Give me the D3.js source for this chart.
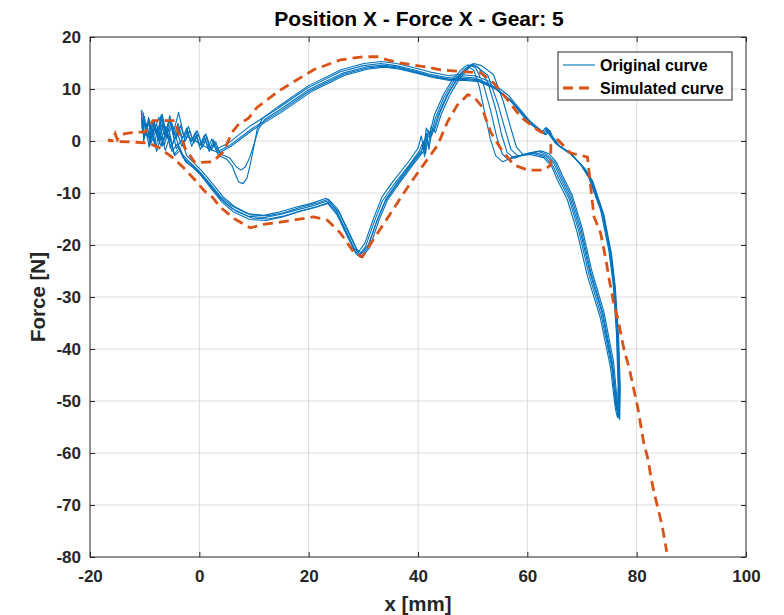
<!DOCTYPE html>
<html>
<head>
<meta charset="utf-8">
<script src="https://cdn.jsdelivr.net/npm/d3@7"></script>
<style>
  body { margin: 0; background: #fff; }
  svg text { font-family: "Liberation Sans", Arial, Helvetica, sans-serif; font-weight: bold; }
</style>
</head>
<body>
<div id="vis"></div>
<script>
// chart data
const xTicks = [-20, 0, 20, 40, 60, 80, 100]
const yTicks = [20, 10, 0, -10, -20, -30, -40, -50, -60, -70, -80]
const legendLabels = ["Original curve", "Simulated curve"]

// measured cycles (x [mm], force [N])
const cycle1 = [[-10.5,6.0],[-10.4,1.5],[-10.0,4.0],[-9.5,0.5],[-9.0,3.0],[-8.2,-0.5],[-7.6,2.5],[-6.8,-1.0],[-6.0,1.8],[-5.0,-2.0],[-4.0,-0.5],[-3.0,-3.2],[-1.5,-4.4],[0.0,-6.0],[2.0,-8.6],[4.0,-11.2],[6.0,-13.0],[9.0,-14.5],[12.0,-14.7],[15.0,-14.1],[18.0,-13.2],[21.0,-12.4],[23.3,-11.6],[25.0,-13.6],[27.0,-18.0],[28.4,-21.0],[29.2,-22.0],[30.4,-20.3],[32.0,-15.5],[33.5,-11.5],[35.5,-8.5],[38.5,-4.5],[40.2,-2.0],[40.8,-0.5],[41.2,-3.0],[41.6,1.5],[42.2,0.5],[43.2,4.5],[44.8,8.5],[46.5,11.5],[48.2,13.5],[49.2,14.3],[50.2,13.6],[51.2,10.5],[52.2,5.5],[53.2,0.5],[54.2,-2.8],[55.5,-4.0],[57.5,-3.0],[60.5,-2.6],[63.0,-3.2],[64.5,-5.0],[65.5,-7.5],[67.3,-11.2],[69.1,-17.5],[71.0,-26.0],[73.3,-33.8],[75.2,-43.5],[76.1,-51.5],[76.5,-53.2],[76.6,-47.0],[76.3,-37.0],[75.7,-27.5],[74.9,-21.0],[73.4,-13.3],[71.2,-7.0],[69.8,-4.6],[67.5,-2.0],[65.2,-0.5],[63.8,1.5],[63.3,2.5],[62.6,1.6],[60.2,3.6],[56.5,8.2],[53.4,10.8],[50.5,12.1],[47.5,12.4],[45.3,12.2],[42.0,12.9],[39.2,13.7],[36.0,14.5],[33.2,14.9],[30.0,14.5],[25.8,13.3],[19.8,10.2],[14.3,6.2],[9.3,2.9],[5.2,-0.5],[3.0,-1.6],[2.3,0.4],[1.6,-1.3],[0.9,1.1],[0.1,-0.9],[-0.7,1.7],[-1.5,-0.2],[-2.3,2.5],[-3.1,0.5],[-3.9,3.4],[-4.6,1.1],[-5.4,4.9],[-6.1,1.7],[-6.9,4.4],[-7.7,1.4],[-8.5,3.7],[-9.3,0.7]]

const cycle2 = [[-10.2,5.5],[-10.1,0.5],[-9.6,3.5],[-9.1,-0.2],[-8.6,2.2],[-7.9,-1.2],[-7.2,3.0],[-6.4,-0.8],[-5.6,2.4],[-4.6,-2.6],[-3.6,-1.2],[-2.6,-3.8],[-1.2,-5.0],[0.3,-6.6],[2.2,-9.2],[4.2,-11.8],[6.2,-13.6],[9.2,-15.1],[12.2,-15.3],[15.2,-14.6],[18.2,-13.6],[21.2,-12.8],[23.5,-12.0],[25.2,-14.2],[27.2,-18.6],[28.6,-21.6],[29.5,-22.4],[30.8,-20.5],[32.4,-15.6],[34.0,-11.6],[36.0,-8.6],[38.8,-4.6],[40.6,-2.2],[41.0,0.0],[41.4,-2.4],[41.9,2.0],[42.5,1.0],[43.6,4.8],[45.2,8.6],[46.9,11.6],[48.6,13.7],[49.6,14.6],[50.6,14.0],[52.0,10.8],[53.3,5.8],[54.4,0.8],[55.4,-2.5],[56.6,-3.6],[58.5,-2.8],[61.0,-2.4],[63.2,-3.0],[64.7,-4.8],[65.8,-7.3],[67.6,-11.0],[69.4,-17.3],[71.3,-25.8],[73.5,-33.5],[75.4,-43.2],[76.2,-51.0],[76.6,-52.8],[76.7,-46.8],[76.4,-37.2],[75.8,-27.6],[75.1,-21.2],[73.6,-13.6],[71.4,-7.2],[70.0,-4.8],[67.7,-2.2],[65.4,-0.6],[64.0,1.4],[63.5,2.6],[62.8,1.8],[60.4,3.9],[56.7,8.6],[53.6,11.2],[50.6,12.5],[47.6,12.8],[45.4,12.6],[42.1,13.3],[39.3,14.1],[36.1,14.9],[33.3,15.3],[30.1,14.9],[25.9,13.7],[19.9,10.6],[14.4,6.6],[11.6,4.4],[10.6,2.4],[10.0,-1.0],[9.3,-4.6],[8.7,-7.2],[8.0,-8.2],[7.2,-7.9],[6.6,-6.4],[6.0,-4.8],[5.0,-3.5],[3.5,-2.8],[2.6,-0.6],[1.8,-2.0],[1.0,0.4],[0.2,-1.6],[-0.6,1.0],[-1.4,-1.0],[-2.2,1.8],[-3.0,-0.4],[-3.8,2.6],[-4.6,0.2],[-5.4,4.0],[-6.2,0.8],[-7.0,5.0],[-7.6,1.6],[-8.4,3.6],[-9.2,0.2]]

const cycle3 = [[-10.0,4.8],[-9.8,1.0],[-9.3,4.5],[-8.8,0.8],[-8.2,3.6],[-7.4,0.2],[-6.8,5.2],[-6.0,1.2],[-5.2,3.5],[-4.2,-1.5],[-3.3,0.2],[-2.3,-2.8],[-1.0,-4.2],[0.5,-5.8],[2.4,-8.2],[4.4,-10.8],[6.4,-12.6],[9.4,-14.2],[12.4,-14.4],[15.4,-13.8],[18.4,-12.8],[21.4,-12.0],[23.6,-11.2],[25.4,-13.2],[27.4,-17.6],[28.8,-20.8],[29.7,-21.6],[31.0,-19.8],[32.6,-15.0],[34.2,-11.0],[36.2,-8.0],[39.0,-4.0],[40.8,-1.6],[41.5,1.5],[41.9,-1.0],[42.4,2.8],[43.0,2.0],[44.0,5.4],[45.5,9.0],[47.2,11.9],[48.9,13.9],[49.9,14.8],[51.0,14.2],[52.8,11.2],[54.2,6.2],[55.3,1.2],[56.3,-2.2],[57.6,-3.3],[59.5,-2.6],[61.6,-2.3],[63.4,-2.8],[64.9,-4.4],[66.0,-7.0],[67.8,-10.8],[69.6,-17.0],[71.5,-25.5],[73.7,-33.2],[75.5,-43.0],[76.3,-51.2],[76.7,-53.0],[76.8,-47.2],[76.5,-37.4],[75.9,-27.8],[75.2,-21.4],[73.8,-13.8],[71.6,-7.4],[70.2,-5.0],[67.9,-2.4],[65.6,-0.8],[64.2,1.2],[63.7,2.4],[63.0,1.5],[60.6,3.4],[56.9,7.9],[53.8,10.5],[50.8,11.8],[47.8,12.1],[45.6,11.9],[42.3,12.6],[39.5,13.4],[36.3,14.2],[33.5,14.6],[30.3,14.2],[26.1,13.0],[20.1,9.9],[14.6,5.9],[12.0,4.2],[10.8,2.2],[10.0,-0.6],[9.2,-3.2],[8.4,-5.0],[7.6,-5.6],[6.8,-5.0],[5.5,-3.2],[3.8,-2.5],[3.0,-0.2],[2.2,-1.8],[1.4,0.8],[0.6,-1.2],[-0.2,1.4],[-1.0,-0.4],[-1.8,2.0],[-2.6,0.0],[-3.4,3.0],[-4.2,0.6],[-5.0,3.2],[-5.8,0.5],[-6.6,3.4],[-7.4,0.0],[-8.2,2.4],[-9.2,-0.5]]

const cycle4 = [[-10.6,5.8],[-10.5,2.5],[-10.2,4.8],[-9.7,1.2],[-9.2,4.2],[-8.5,1.8],[-7.8,3.2],[-7.0,0.2],[-6.2,2.8],[-5.3,-1.4],[-4.3,0.8],[-3.3,-2.4],[-1.8,-4.0],[-0.2,-5.6],[1.8,-8.0],[3.8,-10.6],[5.8,-12.4],[8.8,-14.0],[11.8,-14.3],[14.8,-13.6],[17.8,-12.7],[20.8,-11.9],[23.2,-11.0],[24.9,-13.0],[26.9,-17.4],[28.3,-20.6],[29.1,-21.4],[30.3,-19.6],[31.9,-14.8],[33.4,-10.8],[35.4,-7.8],[38.4,-3.8],[40.0,-1.4],[40.6,1.0],[41.1,-2.0],[41.5,2.5],[42.1,1.2],[43.0,5.0],[44.6,8.8],[46.3,11.8],[48.0,13.8],[49.0,14.6],[50.6,14.4],[52.8,12.6],[54.6,7.2],[56.0,2.0],[57.0,-1.6],[58.3,-2.9],[60.0,-2.4],[62.0,-2.0],[63.6,-2.6],[65.1,-4.2],[66.2,-6.8],[68.0,-10.6],[69.8,-16.8],[71.6,-25.2],[73.8,-33.0],[75.6,-42.8],[76.4,-51.0],[76.8,-53.4],[76.9,-47.0],[76.6,-37.6],[76.0,-28.0],[75.3,-21.6],[73.9,-14.0],[71.8,-7.6],[70.4,-5.2],[68.1,-2.6],[65.8,-1.0],[64.4,1.0],[63.9,2.2],[63.2,1.3],[60.8,3.2],[57.1,7.6],[54.0,10.3],[51.0,11.6],[48.0,11.9],[45.8,11.8],[42.5,12.4],[39.7,13.2],[36.5,14.0],[33.7,14.4],[30.5,14.0],[26.3,12.8],[20.3,9.7],[14.8,5.7],[9.8,2.5],[5.6,-0.8],[3.4,-2.0],[2.6,0.2],[1.9,-1.6],[1.2,1.4],[0.4,-0.6],[-0.4,2.0],[-1.2,0.2],[-2.0,2.8],[-2.8,0.8],[-3.8,5.5],[-4.6,2.2],[-5.4,4.2],[-6.4,1.2],[-7.4,4.6],[-8.4,1.5],[-9.4,3.4]]

const cycle5 = [[-10.3,4.2],[-10.2,0.0],[-9.7,2.2],[-9.2,-1.2],[-8.6,1.2],[-7.8,-2.0],[-7.0,1.0],[-6.2,-1.8],[-5.4,1.0],[-4.5,-2.8],[-3.5,-1.8],[-2.5,-4.0],[-1.0,-5.2],[0.6,-6.8],[2.6,-9.4],[4.6,-11.8],[6.6,-13.4],[9.6,-14.8],[12.6,-15.0],[15.6,-14.4],[18.6,-13.4],[21.6,-12.6],[23.8,-11.8],[25.6,-13.8],[27.6,-18.3],[29.0,-21.4],[29.9,-22.2],[31.2,-20.4],[32.8,-15.4],[34.4,-11.4],[36.4,-8.4],[39.2,-4.4],[41.0,-2.0],[41.6,0.8],[42.0,-1.6],[42.6,2.2],[43.2,1.6],[44.2,5.0],[45.8,8.8],[47.5,11.8],[49.2,13.9],[50.2,14.9],[51.6,14.5],[53.8,12.8],[55.6,7.6],[57.0,2.4],[58.0,-1.2],[59.2,-2.6],[60.8,-2.2],[62.5,-1.9],[63.9,-2.4],[65.3,-4.0],[66.4,-6.6],[68.2,-10.4],[70.0,-16.6],[71.8,-25.0],[74.0,-32.8],[75.8,-42.6],[76.5,-50.8],[76.9,-53.6],[77.0,-47.6],[76.7,-37.8],[76.1,-28.2],[75.4,-21.8],[74.0,-14.2],[72.0,-7.8],[70.6,-5.4],[68.3,-2.8],[66.0,-1.1],[64.6,0.9],[64.1,2.0],[63.4,1.2],[61.0,3.0],[57.3,7.4],[54.2,10.0],[51.2,11.4],[48.2,11.7],[46.0,11.6],[42.7,12.2],[39.9,13.0],[36.7,13.8],[33.9,14.2],[30.7,13.8],[26.5,12.6],[20.5,9.5],[15.0,5.5],[10.0,2.3],[5.8,-1.0],[3.6,-2.3],[1.6,-1.4],[-0.4,-0.2],[-2.2,0.8],[-3.2,-1.0],[-4.0,1.5],[-5.0,-0.8],[-6.0,2.2],[-7.0,-1.0],[-8.0,1.8],[-9.0,-0.8]]

const originalCycles = [cycle1, cycle2, cycle3, cycle4, cycle5]

const simulated = [[63.0,1.5],[61.9,2.1],[58.8,4.6],[56.4,7.9],[53.8,11.2],[51.5,13.1],[47.5,13.4],[44.1,13.7],[41.7,14.2],[36.8,15.0],[34.4,15.6],[32.6,16.2],[30.0,16.2],[25.8,15.6],[20.9,13.7],[14.8,9.8],[10.6,6.5],[9.0,4.4],[7.1,3.1],[6.0,1.7],[4.4,-2.1],[2.4,-4.0],[-0.8,-4.2],[-2.6,-1.4],[-3.2,0.6],[-3.9,1.7],[-4.4,3.9],[-6.3,3.9],[-8.5,3.9],[-9.9,1.7],[-11.2,1.7],[-13.0,1.5],[-14.5,1.2],[-15.0,0.3],[-15.4,1.4],[-15.8,0.2],[-16.3,0.0],[-16.7,0.2],[-15.0,-0.1],[-12.3,-0.2],[-9.4,-0.4],[-7.5,-1.2],[-5.0,-3.1],[-3.0,-5.0],[-0.8,-7.5],[1.1,-9.8],[2.4,-10.8],[3.8,-12.7],[6.5,-15.0],[9.3,-16.7],[12.0,-16.0],[14.8,-15.6],[20.9,-14.6],[23.4,-15.2],[25.8,-17.7],[28.2,-21.3],[29.8,-22.3],[31.8,-19.0],[35.0,-13.9],[38.6,-8.1],[41.0,-4.6],[43.6,-0.8],[45.4,3.7],[47.2,6.9],[49.1,8.9],[50.2,8.5],[51.5,6.9],[53.3,1.7],[55.1,-1.4],[57.5,-4.6],[60.1,-5.6],[63.0,-5.6],[64.3,-4.6],[64.3,-0.8],[65.6,0.2],[67.9,-2.3],[71.0,-3.1],[71.2,-5.0],[71.6,-8.9],[72.2,-14.6],[73.4,-17.7],[74.4,-22.9],[74.9,-26.2],[75.8,-31.2],[76.6,-34.4],[77.7,-40.2],[78.6,-43.5],[79.5,-47.9],[80.2,-51.2],[80.8,-55.0],[81.3,-58.1],[82.1,-61.3],[82.6,-64.6],[83.2,-67.7],[84.1,-71.5],[84.8,-74.8],[85.5,-79.0]]

const blue = "#0072BD"
const orange = "#D95319"
const axisColor = "#262626"

const W = 784, H = 615
const margin = { left: 90, top: 37, right: 38, bottom: 58 }
const width = W - margin.left - margin.right
const height = H - margin.top - margin.bottom

let svg = d3.select("#vis").append("svg")
  .attr("width", W)
  .attr("height", H)

let x = d3.scaleLinear().domain([-20, 100]).range([0, width])
let y = d3.scaleLinear().domain([-80, 20]).range([height, 0])

let g = svg.append("g").attr("transform", `translate(${margin.left},${margin.top})`)

svg.append("defs").append("clipPath").attr("id", "plotclip")
  .append("rect").attr("width", width).attr("height", height)

// grid
g.append("g").selectAll("line").data(xTicks.slice(1, -1)).enter().append("line")
  .attr("x1", d => x(d)).attr("x2", d => x(d))
  .attr("y1", 0).attr("y2", height)
  .attr("stroke", "#dcdcdc").attr("stroke-width", 1)
g.append("g").selectAll("line").data(yTicks.slice(1, -1)).enter().append("line")
  .attr("y1", d => y(d)).attr("y2", d => y(d))
  .attr("x1", 0).attr("x2", width)
  .attr("stroke", "#dcdcdc").attr("stroke-width", 1)

// curves
let line = d3.line().x(d => x(d[0])).y(d => y(d[1]))
let plot = g.append("g").attr("clip-path", "url(#plotclip)")

plot.selectAll(".orig").data(originalCycles).enter().append("path")
  .attr("class", "orig")
  .attr("d", line)
  .attr("fill", "none")
  .attr("stroke", blue)
  .attr("stroke-width", 1.1)
  .attr("stroke-linejoin", "round")

plot.append("path")
  .datum(simulated)
  .attr("d", line)
  .attr("fill", "none")
  .attr("stroke", orange)
  .attr("stroke-width", 2.8)
  .attr("stroke-dasharray", "10,6")

// axes, MATLAB style box with inward ticks, plain hyphen minus
let fmt = d => String(d)
let xAxis = d3.axisBottom(x).tickValues(xTicks).tickSize(-5).tickPadding(13).tickFormat(fmt)
let yAxis = d3.axisLeft(y).tickValues(yTicks).tickSize(-5).tickPadding(9).tickFormat(fmt)

g.append("g").attr("transform", `translate(0,${height})`).call(xAxis)
g.append("g").call(yAxis)
g.append("g").call(d3.axisTop(x).tickValues(xTicks).tickSize(-5).tickFormat(""))
g.append("g").attr("transform", `translate(${width},0)`)
  .call(d3.axisRight(y).tickValues(yTicks).tickSize(-5).tickFormat(""))

g.selectAll(".tick line").attr("stroke", axisColor)
g.selectAll(".domain").remove()
g.selectAll(".tick text").attr("fill", axisColor).style("font-size", "17px")

g.append("rect")
  .attr("width", width).attr("height", height)
  .attr("fill", "none").attr("stroke", axisColor).attr("stroke-width", 1)

// titles
svg.append("text")
  .attr("x", margin.left + width / 2 + 1).attr("y", 26)
  .attr("text-anchor", "middle")
  .style("font-size", "21px")
  .text("Position X - Force X - Gear: 5")

svg.append("text")
  .attr("x", margin.left + width / 2).attr("y", 611)
  .attr("text-anchor", "middle")
  .attr("fill", axisColor)
  .style("font-size", "20.5px")
  .text("x [mm]")

svg.append("text")
  .attr("transform", `translate(45,${margin.top + height / 2}) rotate(-90)`)
  .attr("text-anchor", "middle")
  .attr("fill", axisColor)
  .style("font-size", "20.5px")
  .text("Force [N]")

// legend
let legend = g.append("g").attr("transform", "translate(468,15)")
legend.append("rect")
  .attr("width", 174).attr("height", 48)
  .attr("fill", "white").attr("stroke", axisColor).attr("stroke-width", 1)

let items = legend.selectAll(".item").data(legendLabels).enter().append("g")
  .attr("transform", (d, i) => `translate(0,${13 + i * 23})`)
items.append("line")
  .attr("x1", 5).attr("x2", 37).attr("y1", 0).attr("y2", 0)
  .attr("stroke", (d, i) => i === 0 ? blue : orange)
  .attr("stroke-width", (d, i) => i === 0 ? 1.1 : 2.8)
  .attr("stroke-dasharray", (d, i) => i === 0 ? null : "10,6")
items.append("text")
  .attr("x", 42).attr("y", 6)
  .style("font-size", "16px")
  .attr("fill", "#000")
  .text(d => d)
</script>
</body>
</html>
